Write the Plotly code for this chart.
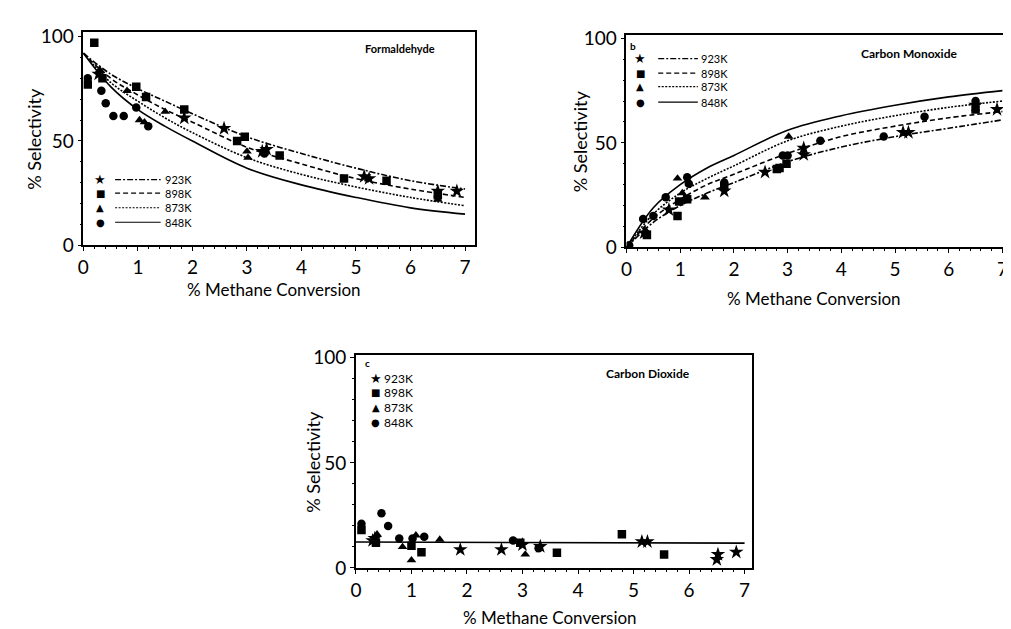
import plotly.graph_objects as go

W, H = 1011, 629
def px(x): return x / W
def py(y): return 1 - y / H

temps = ["923K", "898K", "873K", "848K"]
symbols = ["star", "square", "triangle-up", "circle"]
glyphs = ["★", "■", "▲", "●"]
dashes = ["6px,2px,2px,2px", "5px,3px", "2px,1.5px", "solid"]

# ---------------- Panel a: Formaldehyde ----------------
fa_curve_x = [0, 0.5, 1, 1.5, 2, 3, 4, 5, 6, 7]
fa_curve = {
    "923K": [92, 82, 75, 69, 63, 52, 44, 37, 31, 27],
    "898K": [92, 80, 72, 65, 59, 47, 39, 32, 27, 23],
    "873K": [92, 78, 69, 61, 54, 42, 34, 28, 23, 19],
    "848K": [92, 76, 65, 57, 50, 37, 29, 23, 18, 15],
}
fa_pts = {
    "923K": ([0.28, 1.85, 2.58, 3.28, 3.36, 5.15, 5.24, 6.5, 6.85],
             [82, 61, 56, 45, 46, 33, 32, 26, 26]),
    "898K": ([0.2, 0.08, 0.35, 0.97, 1.15, 1.85, 2.82, 2.96, 3.6, 4.78, 5.56, 6.5],
             [97, 77, 80, 76, 71, 65, 50, 52, 43, 32, 31, 24]),
    "873K": ([0.3, 0.8, 1.03, 1.12, 1.5, 3.0, 3.02, 6.5],
             [84, 74, 60, 59, 64, 45, 42, 22]),
    "848K": ([0.08, 0.33, 0.41, 0.55, 0.74, 0.97, 1.19, 3.32],
             [80, 74, 68, 62, 62, 66, 57, 44]),
}

# ---------------- Panel b: Carbon Monoxide ----------------
co_curve_x = [0, 0.5, 1, 1.5, 2, 3, 4, 5, 6, 7]
co_curve = {
    "923K": [0, 12, 20, 26, 31, 41, 48, 53, 57, 61],
    "898K": [0, 14, 23, 30, 35, 45, 53, 58, 62, 65],
    "873K": [0, 16, 26, 33, 39, 51, 58, 63, 67, 70],
    "848K": [0, 19, 30, 38, 44, 56, 63, 68, 72, 75],
}
co_pts = {
    "923K": ([0.33, 0.79, 1.82, 2.58, 3.3, 3.3, 5.15, 5.25, 6.5, 6.9],
             [7, 18, 27, 36, 47.5, 44.4, 55, 55, 68, 66]),
    "898K": ([0.38, 0.95, 0.98, 1.13, 1.82, 2.8, 2.85, 2.98, 6.5],
             [6, 15, 22, 23, 29, 37.5, 38, 40, 66]),
    "873K": ([0.36, 0.95, 1.04, 1.46, 3.02],
             [8, 33, 26, 24, 53]),
    "848K": ([0.05, 0.31, 0.5, 0.73, 1.13, 1.16, 1.82, 2.91, 3.0, 3.61, 4.79, 5.55, 6.5],
             [1, 13.6, 15, 24, 33.6, 30.5, 31, 44, 44, 51, 53, 62.5, 70]),
}

# ---------------- Panel c: Carbon Dioxide ----------------
co2_line_x = [0, 7]
co2_line_y = [12.3, 11.8]
co2_pts = {
    "923K": ([0.3, 0.34, 1.88, 2.62, 3.0, 3.32, 5.15, 5.25, 6.52, 6.5, 6.85],
             [13, 14, 8.7, 8.7, 11, 10.2, 12.5, 12.5, 6.4, 4, 7.5]),
    "898K": ([0.1, 0.36, 1.0, 1.18, 2.96, 3.62, 4.79, 5.55],
             [18, 12, 10.5, 7.5, 12, 7.2, 16, 6.4]),
    "873K": ([0.38, 0.84, 1.0, 1.08, 1.51, 3.05],
             [16, 10, 3.7, 15.5, 13.5, 6.4]),
    "848K": ([0.1, 0.46, 0.58, 0.78, 1.02, 1.23, 2.83, 3.29],
             [21, 26, 20, 14, 14, 14.8, 13, 9.4]),
}

fig = go.Figure()

def add_points(pts, xa, ya):
    for t, s in zip(temps, symbols):
        xs, ys = pts[t]
        fig.add_trace(go.Scatter(x=xs, y=ys, mode="markers", xaxis=xa, yaxis=ya,
                                 marker=dict(symbol=s, size=8.5 if s != "star" else 11,
                                             color="black", line=dict(width=0)),
                                 showlegend=False, name=t))

def add_curves(cx, curves, xa, ya):
    for t, d in zip(temps, dashes):
        fig.add_trace(go.Scatter(x=cx, y=curves[t], mode="lines", xaxis=xa, yaxis=ya,
                                 line=dict(color="black", width=1.6, dash=d, shape="spline"),
                                 showlegend=False, name=t))

add_curves(fa_curve_x, fa_curve, "x", "y")
add_points(fa_pts, "x", "y")
add_curves(co_curve_x, co_curve, "x2", "y2")
add_points(co_pts, "x2", "y2")
fig.add_trace(go.Scatter(x=co2_line_x, y=co2_line_y, mode="lines", xaxis="x3", yaxis="y3",
                         line=dict(color="black", width=1.6), showlegend=False))
add_points(co2_pts, "x3", "y3")

FONT = "Lato"
axis_common = dict(showline=True, linecolor="black", linewidth=1.6, mirror=True,
                   showgrid=False, zeroline=False, ticks="outside", ticklen=4,
                   tickcolor="black", tickwidth=1.2,
                   tickfont=dict(family=FONT, size=19, color="black"))

panels = {
    "a": dict(xd=(70, 465), yd=(16, 236), xr=7.18, yr=101.9),
    "b": dict(xd=(618, 1000), yd=(19, 238), xr=7.05, yr=101.4),
    "c": dict(xd=(345, 745), yd=(349, 569), xr=7.14, yr=101.4),
}
names = [("xaxis", "yaxis", "a"), ("xaxis2", "yaxis2", "b"), ("xaxis3", "yaxis3", "c")]
for i, (xn, yn, p) in enumerate(names):
    P = panels[p]
    anchor_y = "y" if i == 0 else f"y{i+1}"
    anchor_x = "x" if i == 0 else f"x{i+1}"
    fig.layout[xn] = dict(axis_common, domain=[px(P["xd"][0]), px(P["xd"][1])],
                          range=[0, P["xr"]], dtick=1, tick0=0, anchor=anchor_y,
                          minor=dict(dtick=0.2, ticks="outside", ticklen=2, tickcolor="black"))
    fig.layout[yn] = dict(axis_common, domain=[py(P["yd"][1]), py(P["yd"][0])],
                          range=[0, P["yr"]], tickvals=[0, 50, 100], anchor=anchor_x,
                          minor=dict(dtick=10, ticks="outside", ticklen=2, tickcolor="black"))

ann = []
shapes = []
def text(x, y, s, size=12, bold=False, xanchor="left", angle=0, family=FONT):
    ann.append(dict(x=px(x), y=py(y), xref="paper", yref="paper", text=f"<b>{s}</b>" if bold else s,
                    showarrow=False, xanchor=xanchor, yanchor="middle", textangle=angle,
                    font=dict(family=family, size=size, color="black")))

# axis titles
for p, ty_x, tx_y in [("a", 20, 281), ("b", 572, 291), ("c", 302, 620)]:
    P = panels[p]
    text(ty_x, (P["yd"][0] + P["yd"][1]) / 2, "% Selectivity", size=18, xanchor="center", angle=-90)
    text((P["xd"][0] + P["xd"][0] + 7 * (P["xd"][1] - P["xd"][0]) / P["xr"]) / 2, tx_y,
         "% Methane Conversion", size=17, xanchor="center")

# panel titles
text(352, 33, "Formaldehyde", size=11, bold=True)
text(853, 38, "Carbon Monoxide", size=12, bold=True)
text(595, 368, "Carbon Dioxide", size=12, bold=True)
text(620, 30, "b", size=10, bold=True)
text(352, 357, "c", size=10, bold=True)

# legends
def legend(rows_y, sym_x, line_x0, line_x1, text_x, with_lines=True, tsize=11):
    for t, g, d, yy in zip(temps, glyphs, dashes, rows_y):
        text(sym_x, yy, g, size=13 if g == "★" else 10, xanchor="center", family="DejaVu Sans")
        if with_lines:
            shapes.append(dict(type="line", xref="paper", yref="paper",
                               x0=px(line_x0), x1=px(line_x1), y0=py(yy), y1=py(yy),
                               line=dict(color="black", width=1.2, dash=d)))
        text(text_x, yy, t, size=tsize)

legend([168, 182, 197, 212], 87, 102, 148, 150)
legend([43, 58, 72, 88], 632, 650, 690, 691)
legend([373, 388, 403, 419], 365, 0, 0, 371, with_lines=False, tsize=12)

fig.update_layout(width=W, height=H, margin=dict(l=0, r=0, t=0, b=0),
                  paper_bgcolor="white", plot_bgcolor="white",
                  annotations=ann, shapes=shapes, showlegend=False)

fig.write_html("out.html")
